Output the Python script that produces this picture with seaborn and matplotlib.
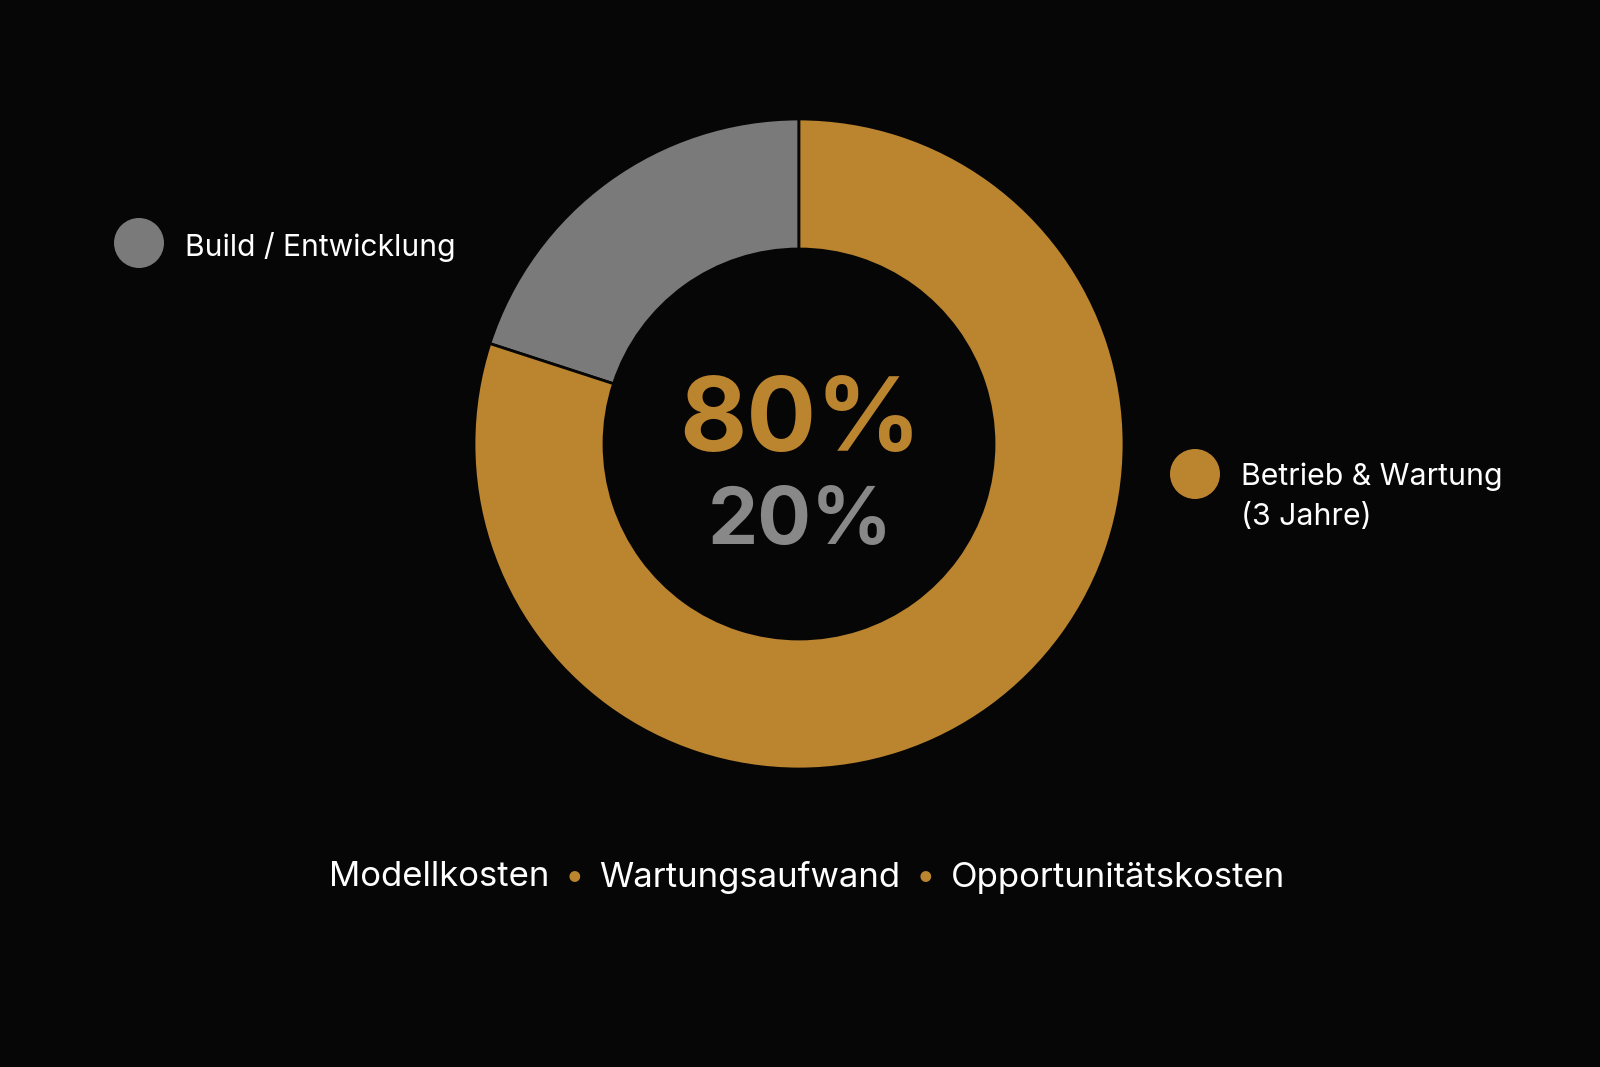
import matplotlib
matplotlib.use("Agg")
from matplotlib import pyplot as plt
from matplotlib.offsetbox import TextArea, HPacker, AnchoredOffsetbox
import seaborn as sns

# data
labels = ["Build / Entwicklung", "Betrieb & Wartung\n(3 Jahre)"]
shares = [20, 80]
center_texts = ["80%", "20%"]
footer_items = ["Modellkosten", "Wartungsaufwand", "Opportunitätskosten"]

BG = "#060606"
GREY = "#7a7a7a"
GREY_TXT = "#888888"
ORANGE = "#bb842f"

sns.set_theme(style="dark", rc={"figure.facecolor": BG, "axes.facecolor": BG,
                                "savefig.facecolor": BG})
plt.rcParams["font.family"] = ["Inter", "DejaVu Sans"]

W, H = 1600, 1067
fig = plt.figure(figsize=(W / 100, H / 100), dpi=100)

# donut, centre (799, 444) px from top
cx, cy, r = 799, H - 444, 325
ax = fig.add_axes([(cx - r) / W, (cy - r) / H, 2 * r / W, 2 * r / H])
ax.set_facecolor(BG)
wedges, _ = ax.pie(shares, colors=[GREY, ORANGE], startangle=90, counterclock=True,
                   radius=1, wedgeprops=dict(width=0.40, edgecolor=BG, linewidth=2))
ax.set_xlim(-1, 1)
ax.set_ylim(-1, 1)
ax.set_axis_off()

# centre numbers
fig.text(800 / W, (H - 451) / H, center_texts[0], ha="center", va="baseline",
         fontsize=74.5, fontweight="bold", color=ORANGE)
fig.text(800 / W, (H - 544) / H, center_texts[1], ha="center", va="baseline",
         fontsize=57.5, fontweight="bold", color=GREY_TXT)

# side legends
ov = fig.add_axes([0, 0, 1, 1], zorder=-1)
ov.set_xlim(0, W)
ov.set_ylim(0, H)
ov.set_axis_off()
ov.patch.set_alpha(0)
ov.scatter([139, 1195], [H - 243, H - 474], s=(50 * 0.72) ** 2, c=[GREY, ORANGE],
           linewidths=0)
ov.text(185, H - 256, labels[0], ha="left", va="baseline", fontsize=21.6, color="white")
line1, line2 = labels[1].split("\n")
ov.text(1241, H - 485, line1, ha="left", va="baseline", fontsize=21.8, color="white")
ov.text(1241, H - 525, line2, ha="left", va="baseline", fontsize=21.8, color="white")

# footer line
parts = []
for i, item in enumerate(footer_items):
    if i > 0:
        parts.append(TextArea("•", textprops=dict(color=ORANGE, fontsize=25)))
    parts.append(TextArea(item, textprops=dict(color="white", fontsize=25)))
box = HPacker(children=parts, align="baseline", pad=0, sep=11)
anchored = AnchoredOffsetbox(loc="center", child=box, frameon=False,
                             bbox_to_anchor=(807 / W, (H - 877) / H),
                             bbox_transform=fig.transFigure, borderpad=0, pad=0)
fig.add_artist(anchored)

fig.savefig("out.png", dpi=100, facecolor=BG)
